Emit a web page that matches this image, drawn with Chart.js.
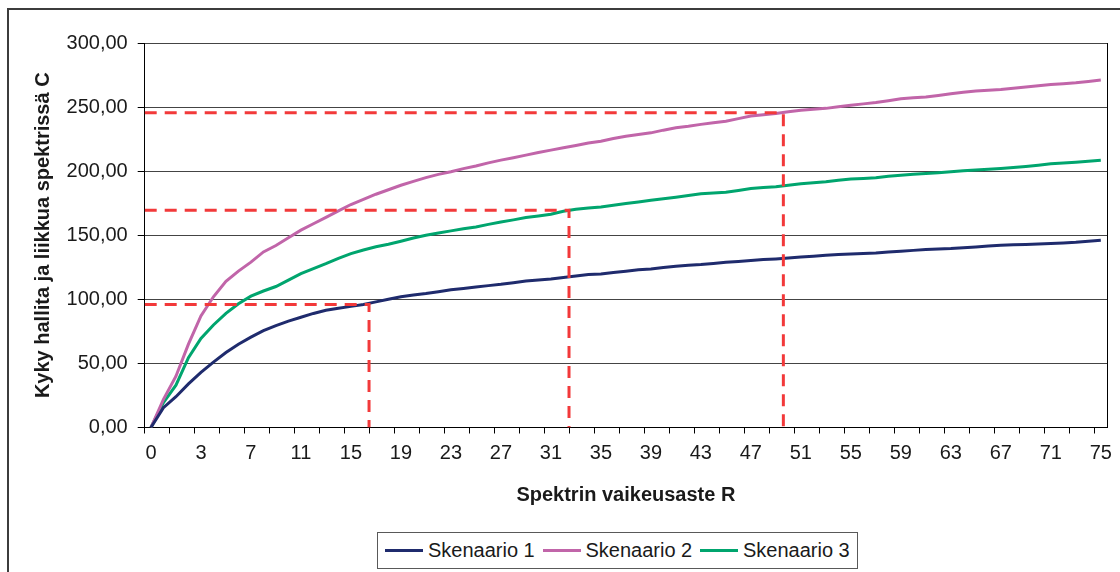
<!DOCTYPE html>
<html>
<head>
<meta charset="utf-8">
<script src="https://cdn.jsdelivr.net/npm/chart.js@4.4.1/dist/chart.umd.min.js"></script>
<style>
  html, body { margin: 0; padding: 0; background: #fff; }
  #wrap { position: relative; width: 1120px; height: 572px; overflow: hidden; font-family: 'Liberation Sans', Arial, sans-serif; }
  #frame { position: absolute; left: 7px; top: 8px; width: 1300px; height: 800px; border: 2px solid #3c3c3c; box-sizing: border-box; }
  #chart { position: absolute; left: 0; top: 0; }
  #legend { position: absolute; left: 377px; top: 532px; width: 481px; height: 37px; border: 1px solid #595959; box-sizing: border-box; display: flex; align-items: center; padding-left: 7px; background: #fff; }
  .item { display: flex; align-items: center; width: 157.5px; flex: none; font-size: 20px; color: #1a1a1a; white-space: nowrap; }
  .swatch { width: 38px; height: 3px; margin-right: 5px; flex: none; }
</style>
</head>
<body>
<div id="wrap">
  <div id="frame"></div>
  <canvas id="chart" width="1120" height="572"></canvas>
  <div id="legend"></div>
</div>
<script>
// R categories (x axis)
const R_LABELS = ['0', '0,5', '1', '2', '3', '4', '5', '6', '7', '8', '9', '10', '11', '12', '13', '14',
  '15', '16', '17', '18', '19', '20', '21', '22', '23', '24', '25', '26', '27', '28', '29', '30',
  '31', '32', '33', '34', '35', '36', '37', '38', '39', '40', '41', '42', '43', '44', '45', '46',
  '47', '48', '49', '50', '51', '52', '53', '54', '55', '56', '57', '58', '59', '60', '61', '62',
  '63', '64', '65', '66', '67', '68', '69', '70', '71', '72', '73', '74', '75'];
const LABEL_STEP = 4;

const SERIES_NAMES = ['Skenaario 1', 'Skenaario 2', 'Skenaario 3'];
const SERIES_COLORS = ['#1f2b6d', '#c165a9', '#00a56e'];

const skenaario1 = [0, 15.5, 24, 34, 43, 51, 58.5, 65, 70.5, 75.5, 79.5, 83, 86, 89, 91.5, 93,
  94.5, 96, 98, 100, 102, 103.3, 104.5, 106, 107.5, 108.5, 109.6, 110.7, 111.7, 113, 114.3, 115,
  115.8, 117, 118.2, 119.3, 119.8, 121, 122, 123, 123.7, 124.8, 125.8, 126.5, 127.1, 128, 128.9,
  129.6, 130.3, 131, 131.5, 132.2, 133, 133.7, 134.4, 134.9, 135.3, 135.8, 136.2, 137, 137.5,
  138.2, 138.8, 139.2, 139.6, 140.3, 140.9, 141.6, 142.2, 142.5, 142.7, 143.1, 143.5, 144, 144.5,
  145.3, 146.1];
const skenaario2 = [0, 22, 40, 65, 87, 102, 114, 122, 129, 137, 142, 148, 154, 159, 164, 169,
  174, 178, 182, 185.5, 189, 192, 195, 197.5, 199.5, 202, 204, 206.5, 208.6, 210.5, 212.5, 214.5,
  216.4, 218.2, 220, 222, 223.4, 225.5, 227.3, 228.6, 229.9, 232, 233.8, 235, 236.5, 237.8, 239,
  241, 243, 244, 245, 246.3, 247.6, 248.3, 249, 250.3, 251.5, 252.5, 253.6, 255, 256.5, 257.2,
  257.8, 259, 260.4, 261.5, 262.5, 263.2, 263.8, 264.7, 265.6, 266.7, 267.7, 268.3, 269, 270,
  271.1];
const skenaario3 = [0, 19.5, 33, 54.5, 69.5, 80, 89, 96.5, 102.5, 106.5, 110, 115, 120, 124,
  127.8, 132, 135.7, 138.5, 141, 143, 145.3, 147.8, 150, 151.8, 153.4, 155, 156.5, 158.5, 160.4,
  162, 163.8, 165, 166.4, 168.7, 170.2, 171.2, 172.1, 173.4, 174.7, 176, 177.3, 178.5, 179.7, 181,
  182.3, 183, 183.6, 185, 186.5, 187.2, 187.8, 189, 190.2, 191, 191.8, 193, 193.8, 194.3, 194.8,
  196, 196.9, 197.5, 198.2, 198.8, 199.5, 200.3, 201, 201.5, 202.1, 202.9, 203.7, 204.7, 205.7,
  206.3, 207, 207.8, 208.6];
const SERIES = [skenaario1, skenaario2, skenaario3];

// red guide lines: C level and the position (in category steps) where it meets the curve
const GUIDE_LEVELS = [96, 169.5, 245.5];
const GUIDE_POS = [17.45, 33.45, 50.6];
const GUIDE_COLOR = '#f2393a';

const FONT = "'Liberation Sans', Arial, sans-serif";
const TEXT = '#1a1a1a';

function fmt(v) {
    return v.toFixed(2).replace('.', ',');
}

const guideSets = GUIDE_LEVELS.map((level, i) => ({
    label: 'guide' + i,
    xAxisID: 'x2',
    data: [{x: -0.5, y: level}, {x: GUIDE_POS[i], y: level}, {x: GUIDE_POS[i], y: 0}],
    borderColor: GUIDE_COLOR,
    borderWidth: 3,
    borderDash: [12, 8],
    borderCapStyle: 'butt',
    fill: false
}));

const seriesSets = SERIES.map((values, i) => ({
    label: SERIES_NAMES[i],
    data: values,
    borderColor: SERIES_COLORS[i],
    backgroundColor: SERIES_COLORS[i],
    borderWidth: 3,
    fill: false
}));

const ctx = document.getElementById('chart').getContext('2d');
new Chart(ctx, {
    type: 'line',
    data: {
        labels: R_LABELS,
        datasets: guideSets.concat(seriesSets)
    },
    options: {
        responsive: false,
        animation: false,
        layout: { padding: { left: 8, right: 10, top: 43, bottom: 65 } },
        plugins: { legend: { display: false }, tooltip: { enabled: false } },
        elements: { point: { radius: 0 }, line: { tension: 0 } },
        scales: {
            x: {
                type: 'category',
                offset: true,
                border: { display: true, color: '#000', width: 1 },
                grid: {
                    offset: true,
                    drawOnChartArea: true,
                    lineWidth: 1,
                    tickLength: 6,
                    color: c => c.type === 'scale' ? '#000' : 'transparent',
                    tickColor: c => (c.type !== 'scale' && c.index % 2 === 0) ? '#000' : 'transparent'
                },
                ticks: {
                    autoSkip: false,
                    maxRotation: 0,
                    minRotation: 0,
                    padding: 8,
                    color: TEXT,
                    font: { family: FONT, size: 20 },
                    callback: (v, i) => i % LABEL_STEP === 0 ? R_LABELS[i] : ''
                },
                title: {
                    display: true,
                    text: 'Spektrin vaikeusaste R',
                    color: TEXT,
                    padding: 0,
                    font: { family: FONT, size: 20, weight: 'bold' }
                },
                afterFit: s => { s.height = 79.5; }
            },
            x2: {
                type: 'linear',
                display: false,
                min: -0.5,
                max: R_LABELS.length - 0.5
            },
            y: {
                min: 0,
                max: 300,
                border: { display: true, color: '#000', width: 1 },
                grid: { color: '#444', lineWidth: 1, tickLength: 7, tickColor: '#000' },
                ticks: {
                    stepSize: 50,
                    padding: 10,
                    color: TEXT,
                    font: { family: FONT, size: 20 },
                    callback: v => fmt(v)
                },
                title: {
                    display: true,
                    text: 'Kyky hallita ja liikkua spektrissä C',
                    color: TEXT,
                    padding: { top: 23, bottom: 0 },
                    font: { family: FONT, size: 20, weight: 'bold' }
                },
                afterFit: s => { s.width = 136.7; }
            }
        }
    }
});

// legend
const legend = document.getElementById('legend');
SERIES_NAMES.forEach((name, i) => {
    const item = document.createElement('div');
    item.className = 'item';
    const sw = document.createElement('span');
    sw.className = 'swatch';
    sw.style.background = SERIES_COLORS[i];
    const txt = document.createElement('span');
    txt.textContent = name;
    item.appendChild(sw);
    item.appendChild(txt);
    legend.appendChild(item);
});
</script>
</body>
</html>
